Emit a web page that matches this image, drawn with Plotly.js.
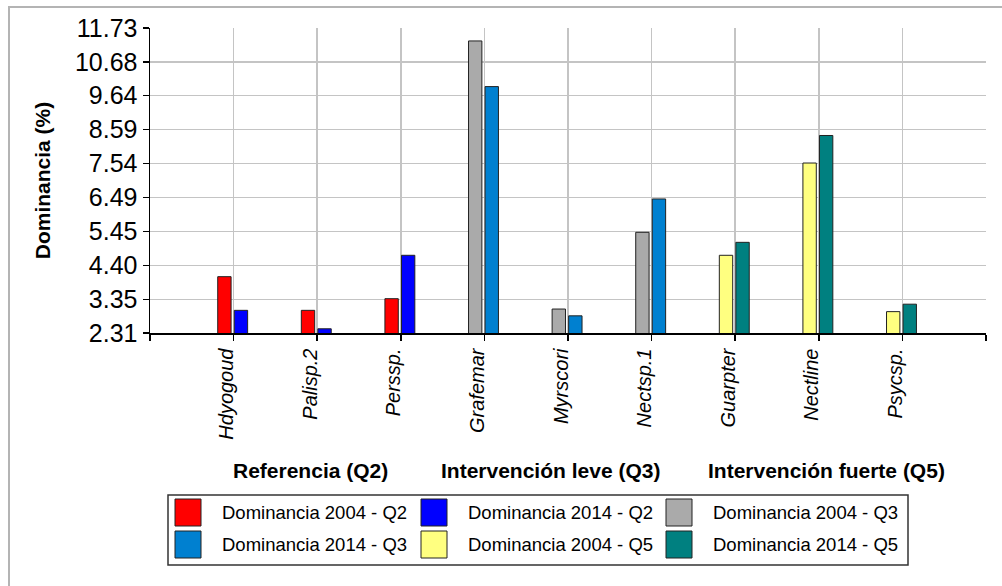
<!DOCTYPE html>
<html>
<head>
<meta charset="utf-8">
<script src="https://cdn.plot.ly/plotly-3.0.1.min.js"></script>
<style>html,body{margin:0;padding:0;background:#fff;}#chart{width:1002px;height:586px;}</style>
</head>
<body>
<div id="chart"></div>
<script>
// ---- data ----
var categories = ['Hdyogoud','Palisp.2','Perssp.','Grafemar','Myrscori','Nectsp.1','Guarpter','Nectline','Psycsp.'];
var groupQ2 = ['Hdyogoud','Palisp.2','Perssp.'];
var groupQ3 = ['Grafemar','Myrscori','Nectsp.1'];
var groupQ5 = ['Guarpter','Nectline','Psycsp.'];
var dom2004Q2 = [4.05, 3.01, 3.37];
var dom2014Q2 = [3.01, 2.44, 4.71];
var dom2004Q3 = [11.33, 3.05, 5.42];
var dom2014Q3 = [9.92, 2.84, 6.45];
var dom2004Q5 = [4.71, 7.56, 2.97];
var dom2014Q5 = [5.11, 8.41, 3.20];
var yTickLabels = ['2.31','3.35','4.40','5.45','6.49','7.54','8.59','9.64','10.68','11.73'];
var groupLabels = ['Referencia (Q2)','Intervención leve (Q3)','Intervención fuerte (Q5)'];
var seriesNames = ['Dominancia 2004 - Q2','Dominancia 2014 - Q2','Dominancia 2004 - Q3','Dominancia 2014 - Q3','Dominancia 2004 - Q5','Dominancia 2014 - Q5'];
var seriesColors = ['#ff0000','#0000ff','#aaaaaa','#0080d0','#ffff80','#008080'];

// ---- layout geometry (pixels) ----
var W = 1002, H = 586;
var M = {l:150, r:16, t:28, b:253};
var pw = W - M.l - M.r, ph = H - M.t - M.b;
function px(x){ return (x - M.l) / pw; }
function py(y){ return (H - M.b - y) / ph; }

var FONT = 'Liberation Sans, Arial, sans-serif';

function pos(group){ return group.map(function(c){ return categories.indexOf(c) + 1; }); }

var seriesData = [
  {x: groupQ2, y: dom2004Q2, first: true},
  {x: groupQ2, y: dom2014Q2, first: false},
  {x: groupQ3, y: dom2004Q3, first: true},
  {x: groupQ3, y: dom2014Q3, first: false},
  {x: groupQ5, y: dom2004Q5, first: true},
  {x: groupQ5, y: dom2014Q5, first: false}
];

var traces = seriesData.map(function(s, i){
  return {
    type: 'bar',
    name: seriesNames[i],
    x: pos(s.x),
    y: s.y,
    width: 0.16,
    offset: s.first ? -0.19 : 0.008,
    marker: {color: seriesColors[i], line: {color: '#222', width: 1}},
    showlegend: false,
    hoverinfo: 'skip'
  };
});

var tickvalsX = [];
var ticktextX = [];
for (var k = 0; k <= categories.length + 1; k++) {
  tickvalsX.push(k);
  ticktextX.push(k >= 1 && k <= categories.length ? categories[k-1] : '');
}

var shapes = [];
var annotations = [];

// outer frame
shapes.push({type:'rect', xref:'paper', yref:'paper', x0:px(9), x1:px(1012), y0:py(600), y1:py(7), line:{color:'#b4b4b4', width:2}, fillcolor:'rgba(0,0,0,0)', layer:'below'});

// group labels
var groupCenters = [310, 550, 826];
groupLabels.forEach(function(t, i){
  annotations.push({xref:'paper', yref:'paper', x:px(groupCenters[i]), y:py(470), text:t, showarrow:false, xanchor:'center', yanchor:'middle', font:{family:FONT, size:21, color:'#000', weight:'bold'}});
});

// legend (manual)
shapes.push({type:'rect', xref:'paper', yref:'paper', x0:px(168), x1:px(908), y0:py(565), y1:py(495), line:{color:'#333', width:1.5}, fillcolor:'#fff'});
var colX = [175, 421, 666];
var rowY = [499, 531];
for (var i = 0; i < seriesNames.length; i++) {
  var c = i % 3, r = Math.floor(i / 3);
  shapes.push({type:'rect', xref:'paper', yref:'paper', x0:px(colX[c]), x1:px(colX[c]+26), y0:py(rowY[r]+27), y1:py(rowY[r]), line:{color:'#222', width:1}, fillcolor:seriesColors[i]});
  annotations.push({xref:'paper', yref:'paper', x:px(colX[c]+45), y:py(rowY[r]+13.5), text:seriesNames[i], showarrow:false, xanchor:'left', yanchor:'middle', font:{family:FONT, size:18.5, color:'#000'}});
}

var layout = {
  width: W, height: H,
  margin: M,
  paper_bgcolor: '#fff', plot_bgcolor: '#fff',
  barmode: 'overlay',
  showlegend: false,
  xaxis: {
    range: [0, categories.length + 1],
    tickvals: tickvalsX, ticktext: ticktextX,
    tickangle: -90,
    ticklabelshift: -7,
    tickfont: {family: FONT, size: 20, color: '#000', style: 'italic'},
    showgrid: true, gridcolor: '#c4c4c4', gridwidth: 1.5,
    showline: true, linecolor: '#000', linewidth: 1.5,
    ticks: 'outside', ticklen: 6, tickwidth: 1.5, tickcolor: '#000',
    zeroline: false, fixedrange: true
  },
  yaxis: {
    range: [Number(yTickLabels[0]), Number(yTickLabels[yTickLabels.length-1])],
    tickvals: yTickLabels.map(Number), ticktext: yTickLabels,
    tickfont: {family: FONT, size: 25, color: '#000'},
    showgrid: true, gridcolor: '#c4c4c4', gridwidth: 1.5,
    showline: true, linecolor: '#000', linewidth: 1.5,
    ticks: 'outside', ticklen: 6, tickwidth: 1.5, tickcolor: '#000',
    zeroline: false, fixedrange: true,
    title: {text: 'Dominancia (%)', font: {family: FONT, size: 21, color: '#000', weight: 'bold'}, standoff: 18}
  },
  shapes: shapes,
  annotations: annotations
};

Plotly.newPlot('chart', traces, layout, {displayModeBar: false, staticPlot: true});
</script>
</body>
</html>
